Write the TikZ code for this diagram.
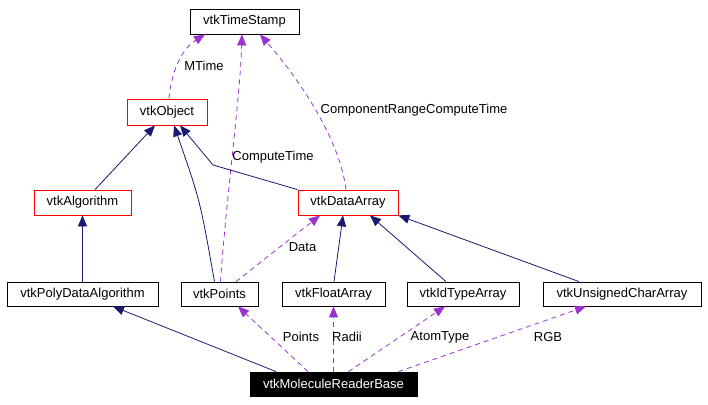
\documentclass[tikz,border=0pt]{standalone}
\usepackage{fontspec}
\setmainfont{Liberation Sans}
\usetikzlibrary{arrows.meta}
\definecolor{inh}{HTML}{191970}
\definecolor{usec}{HTML}{9A32CD}
\begin{document}
\begin{tikzpicture}[x=1pt,y=-1pt,
  box/.style={draw=black,line width=0.8pt,fill=white,minimum height=25pt,inner sep=0pt,font=\fontsize{13}{15}\selectfont},
  redbox/.style={box,draw=red},
  mainbox/.style={box,fill=black,text=white},
  inhedge/.style={draw=inh,line width=0.8pt,-{Triangle[length=11pt,width=9pt]}},
  useedge/.style={draw=usec,line width=0.8pt,dash pattern=on 5pt off 4pt,-{Triangle[length=11pt,width=9pt]}},
  lbl/.style={font=\fontsize{13}{15}\selectfont,inner sep=1pt}]
\useasboundingbox (0,0) rectangle (708,404);
% nodes
\node[box,minimum width=109pt] (TS) at (244.5,21.5) {vtkTimeStamp};
\node[redbox,minimum width=80pt,minimum height=26pt] (Obj) at (167,112) {vtkObject};
\node[redbox,minimum width=97pt] (Alg) at (82.5,202.5) {vtkAlgorithm};
\node[redbox,minimum width=100pt] (DA) at (348,202.5) {vtkDataArray};
\node[box,minimum width=151pt,minimum height=24pt] (PDA) at (82.5,294) {vtkPolyDataAlgorithm};
\node[box,minimum width=77pt,minimum height=24pt] (Pts) at (219.5,294) {vtkPoints};
\node[box,minimum width=103pt,minimum height=24pt] (FA) at (333.5,294) {vtkFloatArray};
\node[box,minimum width=112pt,minimum height=24pt] (IdT) at (463,294) {vtkIdTypeArray};
\node[box,minimum width=158pt,minimum height=24pt] (UCA) at (622,294) {vtkUnsignedCharArray};
\node[mainbox,minimum width=167pt,minimum height=24pt] (MRB) at (333.5,384) {vtkMoleculeReaderBase};
% usage edges to TimeStamp
\draw[useedge] ([xshift=2pt]Obj.north) .. controls (171,75) and (180,50) .. ([xshift=-39.5pt]TS.south);
\draw[useedge] ([xshift=1pt]Pts.north) .. controls (226,200) and (240,100) .. ([xshift=-2.5pt]TS.south);
\draw[useedge] ([xshift=-2pt]DA.north) .. controls (340,140) and (300,80) .. ([xshift=15.5pt]TS.south);
% inheritance to Object
\draw[inhedge] ([xshift=12.5pt]Alg.north) -- ([xshift=-12pt]Obj.south);
\draw[inhedge] ([xshift=-5pt]Pts.north) .. controls (200,200) .. ([xshift=7pt]Obj.south);
\draw[inhedge] (DA.north west) -- (213,165) -- ([xshift=13pt]Obj.south);
% inheritance lower
\draw[inhedge] (PDA.north) -- (Alg.south);
\draw[inhedge] ([xshift=0.5pt]FA.north) -- ([xshift=-5pt]DA.south);
\draw[inhedge] ([xshift=-17pt]IdT.north) -- ([xshift=22pt]DA.south);
\draw[inhedge] ([xshift=-43pt]UCA.north) -- (DA.south east);
\draw[useedge] ([xshift=16.5pt]Pts.north) -- ([xshift=-28pt]DA.south);
% from MoleculeReaderBase
\draw[inhedge] ([xshift=-57.5pt]MRB.north) -- ([xshift=30.5pt]PDA.south);
\draw[useedge] ([xshift=-25.5pt]MRB.north) -- ([xshift=18.5pt]Pts.south);
\draw[useedge] (MRB.north) -- (FA.south);
\draw[useedge] ([xshift=15pt]MRB.north) -- ([xshift=-18pt]IdT.south);
\draw[useedge] ([xshift=65pt]MRB.north) -- ([xshift=-36pt]UCA.south);
% labels
\node[lbl] (lMTime) at (204,66) {MTime};
\node[lbl] (lCT) at (273,157) {ComputeTime};
\node[lbl] (lCRCT) at (414,110) {ComponentRangeComputeTime};
\node[lbl] (lData) at (302.5,247) {Data};
\node[lbl] (lPoints) at (301,337) {Points};
\node[lbl] (lRadii) at (347,337) {Radii};
\node[lbl] (lAtom) at (440,337) {AtomType};
\node[lbl] (lRGB) at (548,337) {RGB};
\end{tikzpicture}
\end{document}
